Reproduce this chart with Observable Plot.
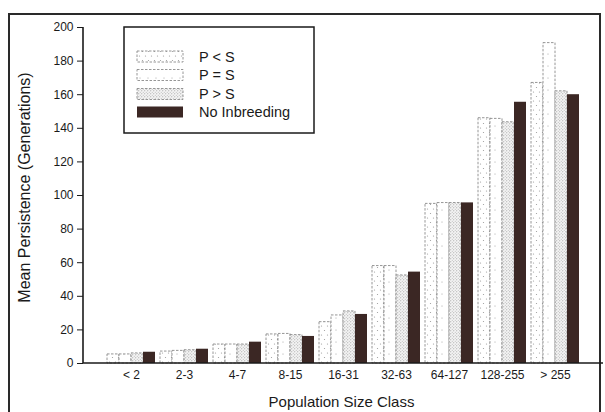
<!DOCTYPE html>
<html>
<head>
<meta charset="utf-8">
<script src="https://cdn.jsdelivr.net/npm/d3@7"></script>
<script src="https://cdn.jsdelivr.net/npm/@observablehq/plot@0.6"></script>
<style>
  html, body { margin: 0; padding: 0; background: #fff; width: 605px; height: 412px; overflow: hidden; }
  #frame { position: absolute; left: 8px; top: 13px; width: 593px; height: 420px; border: 2px solid #2a2a2a; box-sizing: border-box; }
  #chart { position: absolute; left: 0; top: 0; }
  #chart svg { background: transparent !important; }
</style>
</head>
<body>
<div id="frame"></div>
<div id="chart"></div>
<script>
const categories = ["< 2", "2-3", "4-7", "8-15", "16-31", "32-63", "64-127", "128-255", "> 255"];
const series = ["P < S", "P = S", "P > S", "No Inbreeding"];
const pLessS       = [5.4, 7.1, 11.3, 17.3, 24.6, 58.0, 95.0, 146.0, 167.0];
const pEqualS      = [5.4, 7.5, 11.3, 17.6, 28.6, 58.0, 95.5, 145.6, 190.7];
const pGreaterS    = [6.0, 7.9, 11.3, 16.9, 31.0, 52.4, 95.5, 143.6, 162.0];
const noInbreeding = [6.7, 8.5, 12.7, 16.1, 29.2, 54.4, 95.6, 155.5, 160.0];
const yTicks = [0, 20, 40, 60, 80, 100, 120, 140, 160, 180, 200];

const seriesValues = [pLessS, pEqualS, pGreaterS, noInbreeding];
const rows = categories.flatMap((c, i) =>
  series.map((s, j) => ({category: c, series: s, value: seriesValues[j][i]})));

const W = 605, H = 412, ML = 83, MR = 2, MT = 27, MB = 49;
const fills = ["url(#pLess)", "url(#pEqual)", "url(#pGreater)", "#3b2724"];

const plot = Plot.plot({
  width: W, height: H,
  marginLeft: ML, marginRight: MR, marginTop: MT, marginBottom: MB,
  style: {fontFamily: "'Liberation Sans', Arial, Helvetica, sans-serif", fontSize: "12px", color: "#1a1a1a", background: "transparent"},
  fx: {domain: categories, paddingInner: 0.1, paddingOuter: 0.45, tickSize: 0, tickPadding: 7, label: null, axis: "bottom"},
  x: {domain: series, padding: 0, axis: null},
  y: {domain: [0, 200], ticks: yTicks, tickSize: 6, tickPadding: 4, label: null},
  color: {domain: series, range: fills},
  marks: [
    Plot.barY(rows.filter(d => d.series !== "No Inbreeding"), {
      fx: "category", x: "series", y: "value", fill: "series",
      stroke: "#8a8a8a", strokeWidth: 0.9, strokeDasharray: "2.5,1.5"
    }),
    Plot.barY(rows.filter(d => d.series === "No Inbreeding"), {
      fx: "category", x: "series", y: "value", fill: "series"
    })
  ]
});

document.getElementById("chart").appendChild(plot);

const svg = d3.select(plot);
const defs = svg.insert("defs", ":first-child");

// P < S : white with scattered dots
const p1 = defs.append("pattern").attr("id", "pLess").attr("patternUnits", "userSpaceOnUse").attr("width", 6).attr("height", 9);
p1.append("rect").attr("width", 6).attr("height", 9).attr("fill", "#fff");
p1.append("circle").attr("cx", 1.5).attr("cy", 2).attr("r", 0.6).attr("fill", "#9a9a9a");
p1.append("circle").attr("cx", 4.5).attr("cy", 6.5).attr("r", 0.6).attr("fill", "#9a9a9a");

// P = S : white with very sparse dots
const p2 = defs.append("pattern").attr("id", "pEqual").attr("patternUnits", "userSpaceOnUse").attr("width", 8).attr("height", 12);
p2.append("rect").attr("width", 8).attr("height", 12).attr("fill", "#fff");
p2.append("circle").attr("cx", 4).attr("cy", 6).attr("r", 0.55).attr("fill", "#a0a0a0");

// P > S : dense stipple
const p3 = defs.append("pattern").attr("id", "pGreater").attr("patternUnits", "userSpaceOnUse").attr("width", 3).attr("height", 3);
p3.append("rect").attr("width", 3).attr("height", 3).attr("fill", "#f4f4f4");
p3.append("circle").attr("cx", 0.75).attr("cy", 0.75).attr("r", 0.6).attr("fill", "#9a9a9a");
p3.append("circle").attr("cx", 2.25).attr("cy", 2.25).attr("r", 0.5).attr("fill", "#b0b0b0");

// move the y axis from the first facet's edge to the plot's left margin
const fxScale = plot.scale("fx");
const shift = ML - fxScale.apply(categories[0]);
svg.selectAll('[aria-label^="y-axis"]').each(function() {
  const t = this.getAttribute("transform") || "";
  this.setAttribute("transform", `translate(${shift},0) ${t}`);
});

const y = plot.scale("y");
const y0 = y.apply(0), yTop = y.apply(200);

// axis lines
svg.append("line").attr("x1", ML).attr("x2", ML).attr("y1", yTop).attr("y2", y0)
  .attr("stroke", "#1a1a1a").attr("stroke-width", 1.6);
svg.append("line").attr("x1", ML).attr("x2", W - MR).attr("y1", y0).attr("y2", y0)
  .attr("stroke", "#1a1a1a").attr("stroke-width", 1.6);

// axis titles
svg.append("text").attr("transform", `translate(30,187.5) rotate(-90)`)
  .attr("text-anchor", "middle").attr("font-size", 16).attr("fill", "#1a1a1a")
  .text("Mean Persistence (Generations)");
svg.append("text").attr("x", 341.5).attr("y", 407)
  .attr("text-anchor", "middle").attr("font-size", 15).attr("fill", "#1a1a1a")
  .text("Population Size Class");

// legend
const color = plot.scale("color");
const lg = svg.append("g").attr("text-anchor", "start");
lg.append("rect").attr("x", 124).attr("y", 27).attr("width", 190).attr("height", 106)
  .attr("fill", "#fff").attr("stroke", "#1a1a1a").attr("stroke-width", 1.5);
const centers = [56.5, 75, 94, 112];
series.forEach((s, i) => {
  const r = lg.append("rect").attr("x", 137).attr("y", centers[i] - 5.5)
    .attr("width", 46).attr("height", 11).attr("fill", color.apply(s));
  if (i < 3) r.attr("stroke", "#8a8a8a").attr("stroke-width", 0.9).attr("stroke-dasharray", "2.5,1.5");
  lg.append("text").attr("x", 199).attr("y", centers[i]).attr("dy", "0.35em")
    .attr("text-anchor", "start").attr("font-size", 14.5).attr("fill", "#1a1a1a").text(s);
});
</script>
</body>
</html>
